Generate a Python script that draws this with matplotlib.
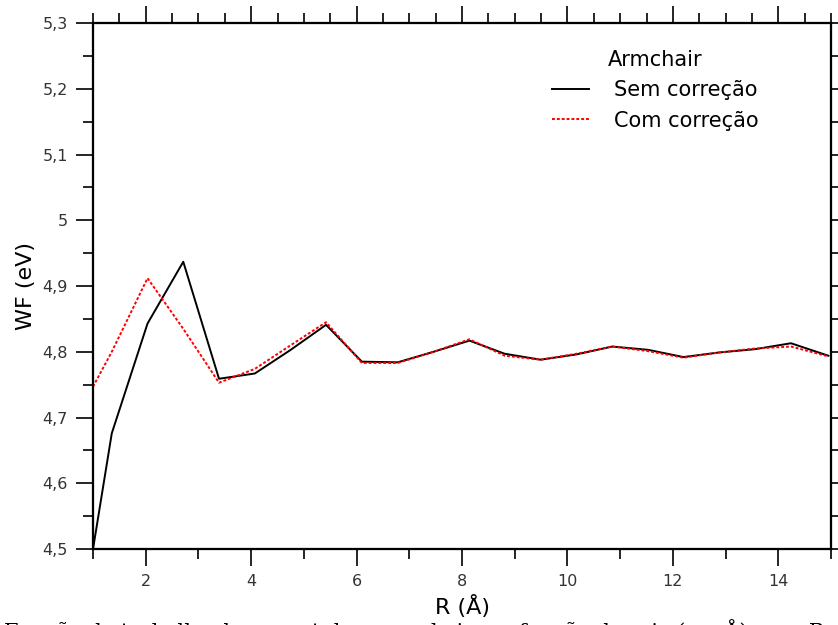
import numpy as np
import matplotlib
matplotlib.use('Agg')
from matplotlib import pyplot as plt
from matplotlib.ticker import MultipleLocator, FuncFormatter, NullFormatter

#%% data
raio = [1.0, 1.356, 2.034, 2.712, 3.39, 4.07, 4.75, 5.42, 6.10, 6.78, 7.46,
        8.14, 8.81, 9.49, 10.17, 10.85, 11.53, 12.20, 12.88, 13.56, 14.24, 14.95]
wf_sem = [4.500, 4.676, 4.843, 4.937, 4.759, 4.767, 4.803, 4.841, 4.785, 4.784, 4.800,
          4.817, 4.797, 4.788, 4.796, 4.808, 4.803, 4.792, 4.799, 4.804, 4.813, 4.794]
wf_com = [4.747, 4.800, 4.912, 4.835, 4.753, 4.774, 4.810, 4.845, 4.783, 4.783, 4.800,
          4.819, 4.794, 4.788, 4.797, 4.808, 4.801, 4.791, 4.799, 4.805, 4.808, 4.793]

titulo_legenda = 'Armchair'
rotulos = ['Sem correção', 'Com correção']
legenda_fig = 'Função de trabalho dos nanotubos armchair em função do raio (em Å) para R'

xlim = (1, 15)
ylim = (4.5, 5.3)

#%% plot
fig = plt.figure(figsize=(8.38, 6.25), dpi=100)
axes = fig.add_axes([0.111, 0.1216, 0.8807, 0.8414])

# twin axes only for the ticks on top / right
ax_top = axes.twiny()
ax_top.set_xlim(xlim)
ax_top.xaxis.set_major_locator(MultipleLocator(2))
ax_top.xaxis.set_minor_locator(MultipleLocator(0.5))
ax_top.xaxis.set_major_formatter(NullFormatter())
ax_top.tick_params(axis='x', which='major', direction='out', length=12, width=1.2, labeltop=False)
ax_top.tick_params(axis='x', which='minor', direction='out', length=7, width=1.2)

ax_right = axes.twinx()
ax_right.set_ylim(ylim)
ax_right.yaxis.set_major_locator(MultipleLocator(0.1))
ax_right.yaxis.set_minor_locator(MultipleLocator(0.05))
ax_right.yaxis.set_major_formatter(NullFormatter())
ax_right.tick_params(axis='y', which='both', direction='out', length=12, width=1.2, labelright=False)

for a in (ax_top, ax_right):
    for s in a.spines.values():
        s.set_linewidth(1.5)

axes.plot(raio, wf_sem, '-', color='black', linewidth=1.4, label=rotulos[0])
axes.plot(raio, wf_com, color='red', linewidth=1.4, dashes=(1.5, 1.0), label=rotulos[1])

axes.set_xlim(xlim)
axes.set_ylim(ylim)

axes.xaxis.set_major_locator(MultipleLocator(2))
axes.xaxis.set_minor_locator(MultipleLocator(1))
axes.yaxis.set_major_locator(MultipleLocator(0.1))
axes.yaxis.set_minor_locator(MultipleLocator(0.05))
axes.yaxis.set_major_formatter(FuncFormatter(lambda v, p: ('%g' % round(v, 2)).replace('.', ',')))
axes.xaxis.set_major_formatter(FuncFormatter(lambda v, p: '%g' % v))

axes.tick_params(which='major', direction='out', length=12, width=1.2, labelsize=11.5,
                 labelcolor='#333333', pad=6, top=False, right=False)
axes.tick_params(which='minor', direction='out', length=7, width=1.2, top=False, right=False)
for s in axes.spines.values():
    s.set_linewidth(1.5)

axes.set_xlabel('R (Å)', fontsize=16, labelpad=4)
axes.set_ylabel('WF (eV)', fontsize=16, labelpad=5)

leg = axes.legend(title=titulo_legenda, frameon=False, fontsize=15, title_fontsize=15,
                  loc='upper left', bbox_to_anchor=(0.61, 0.965), borderaxespad=0,
                  handlelength=1.8, handletextpad=1.2, labelspacing=0.5)

# caption of the source document, cut by the lower edge as in the reference
fig.text(0.005, 0.009, legenda_fig, family='DejaVu Serif', fontsize=15, va='top', ha='left')

fig.savefig('out.png', dpi=100)
